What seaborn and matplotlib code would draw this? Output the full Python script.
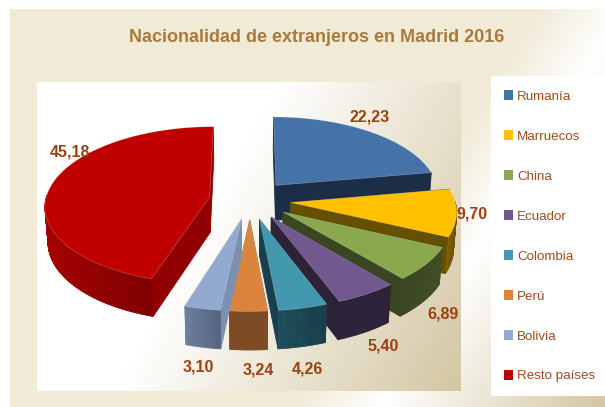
"""
plot.py
----------------------------------
Exploded 3D-look pie of foreign nationalities in Madrid, 2016.
Wedges are projected by hand onto a pixel-sized axes, the legend
is a small seaborn scatter on its own axes.
"""

import numpy as np
import pandas as pd
import matplotlib
matplotlib.use("Agg")
import matplotlib.pyplot as plt
import seaborn as sns

# --------------------------------------------------------------------------
# Data
# --------------------------------------------------------------------------
TITLE = "Nacionalidad de extranjeros en Madrid 2016"
PAISES = ["Rumanía", "Marruecos", "China", "Ecuador", "Colombia", "Perú", "Bolivia", "Resto países"]
VALORES = [22.23, 9.70, 6.89, 5.40, 4.26, 3.24, 3.10, 45.18]

# --------------------------------------------------------------------------
# Style
# --------------------------------------------------------------------------
W, H = 605, 407
TOP_COLORS = ["#4572A7", "#FFC000", "#8BA84F", "#71588F", "#4198AF", "#DB843D", "#93A9CF", "#C00000"]
RADIAL_COLORS = ["#1B2D47", "#665000", "#3A4621", "#2D2339", "#1A3F4C", "#7D4B24", "#7D90B0", "#900000"]
ARC_COLORS = [
    ("#1B2D47", "#1B2D47"), ("#7F6000", "#6B5200"), ("#3A4621", "#414F25"), ("#2D2339", "#2D2339"),
    ("#1F4E5C", "#193F4A"), ("#7D4B24", "#7D4B24"), ("#6E809F", "#57667F"), ("#A50000", "#7E0000"),
]
DRAW_ORDER = [0, 7, 1, 2, 3, 4, 5, 6]
# label offset in pixels from the middle of each wedge's outer arc
LABEL_OFFSETS = [(-1, -16), (15, 0), (17, 48), (16, 50), (4, 59), (10, 57), (-4, 57), (19, -35)]
LABEL_COLOR = "#9C4210"
LEGEND_COLOR = "#A04A1E"
TITLE_COLOR = "#A87A3E"

# projection of the pie plane onto the image
CX, CY = 250, 200
SCALE_X, SCALE_Y = 164, 78
PERSPECTIVE = 0.1
DEPTH = 36
EXPLODE = 0.25


def project(x, y, z=0.0):
    """Plane coordinates (radius = 1, y going away) to image pixels."""
    w = 1 + PERSPECTIVE * y + 0.015 * z
    return CX + SCALE_X * x / w, CY - SCALE_Y * y / w + DEPTH * z / w


def gradient(ax, extent, weight, stops, colors):
    """Paint a diagonal multi stop gradient into a pixel rectangle."""
    x0, x1, y0, y1 = extent
    xx, yy = np.meshgrid(np.arange(x0, x1), np.arange(y0, y1))
    t = xx + weight * yy
    rgb = np.array([matplotlib.colors.to_rgb(c) for c in colors])
    img = np.dstack([np.interp(t, stops, rgb[:, i]) for i in range(3)])
    ax.imshow(img, extent=(x0, x1, y1, y0), aspect="auto", interpolation="bilinear", zorder=0)


def face(ax, xs, ys, color):
    ax.fill(xs, ys, facecolor=color, edgecolor=color, linewidth=0.6, zorder=2)


def draw_wedge(ax, start, end, top, radial, arc):
    """Draw one exploded wedge: sides back to front, then the top."""
    mid = np.radians((start + end) / 2)
    ox, oy = EXPLODE * np.sin(mid), EXPLODE * np.cos(mid)
    thetas = np.arange(start, end, 1.0).tolist() + [end]
    px = [ox + np.sin(np.radians(t)) for t in thetas]
    py = [oy + np.cos(np.radians(t)) for t in thetas]

    faces = []
    for ex, ey in ((px[0], py[0]), (px[-1], py[-1])):
        faces.append(((oy + ey) / 2, [(ox, oy), (ex, ey)], radial))

    # outer rim, only the part that faces the viewer
    front = [i for i in range(len(thetas) - 1) if np.cos(np.radians(thetas[i])) < 0.02]
    if front:
        sx = [project(px[i], py[i])[0] for i in front]
        shades = sns.blend_palette(list(arc), 64)
        for i in front:
            s = project(px[i], py[i])[0]
            k = int(63 * (s - min(sx)) / max(max(sx) - min(sx), 1))
            faces.append(((py[i] + py[i + 1]) / 2, [(px[i], py[i]), (px[i + 1], py[i + 1])], shades[k]))

    for _, ((ax0, ay0), (ax1, ay1)), color in sorted(faces, key=lambda f: -f[0]):
        corners = [project(ax0, ay0), project(ax1, ay1), project(ax1, ay1, 1), project(ax0, ay0, 1)]
        face(ax, [c[0] for c in corners], [c[1] for c in corners], color)

    outline = [project(ox, oy)] + [project(a, b) for a, b in zip(px, py)]
    ax.fill([c[0] for c in outline], [c[1] for c in outline], facecolor=top,
            edgecolor=(1, 1, 1, 0.25), linewidth=0.5, zorder=2)


def main():
    sns.set_theme(style="white")
    plt.rcParams["font.family"] = ["Liberation Sans", "DejaVu Sans"]

    fig = plt.figure(figsize=(W / 100, H / 100), dpi=100, facecolor="white")
    ax = fig.add_axes([0, 0, 1, 1])

    gradient(ax, (10, W, 9, H), 0.614, [540, 630, 855], ["#F0EAD6", "#FFFFFF", "#D3C6A2"])
    gradient(ax, (37, 461, 82, 391), 0.53, [322, 668], ["#FFFFFF", "#D3C6A2"])
    ax.set_xlim(0, W)
    ax.set_ylim(H, 0)
    ax.axis("off")

    total = sum(VALORES)
    edges = np.cumsum([0] + VALORES) / total * 360
    for i in DRAW_ORDER:
        draw_wedge(ax, edges[i], edges[i + 1], TOP_COLORS[i], RADIAL_COLORS[i], ARC_COLORS[i])

    for i, valor in enumerate(VALORES):
        mid = np.radians((edges[i] + edges[i + 1]) / 2)
        r = 1 + EXPLODE
        lx, ly = project(r * np.sin(mid), r * np.cos(mid))
        dx, dy = LABEL_OFFSETS[i]
        ax.text(lx + dx, ly + dy, f"{valor:.2f}".replace(".", ","), color=LABEL_COLOR, fontsize=11.5,
                fontweight="bold", ha="center", va="center_baseline", zorder=3)

    ax.text(316.5, 36, TITLE, color=TITLE_COLOR, fontsize=13, fontweight="bold",
            ha="center", va="center_baseline", zorder=3)

    # legend panel
    lax = fig.add_axes([491 / W, 1 - 396 / H, (W - 491) / W, 320 / H], facecolor="white")
    df = pd.DataFrame({"pais": PAISES, "pos": 0})
    sns.scatterplot(data=df, x="pos", y="pais", hue="pais", palette=TOP_COLORS, marker="s", s=42,
                    linewidth=0, legend=False, ax=lax)
    lax.set_xlim(-17.5, 96.5)
    lax.set_ylim(7.525, -0.475)
    lax.set_xlabel("")
    lax.set_ylabel("")
    lax.set_xticks([])
    lax.set_yticks([])
    sns.despine(ax=lax, left=True, bottom=True)
    for i, pais in enumerate(PAISES):
        lax.text(8.5, i, pais, color=LEGEND_COLOR, fontsize=9.6, ha="left", va="center_baseline")

    fig.savefig("out.png", dpi=100)


if __name__ == "__main__":
    main()
